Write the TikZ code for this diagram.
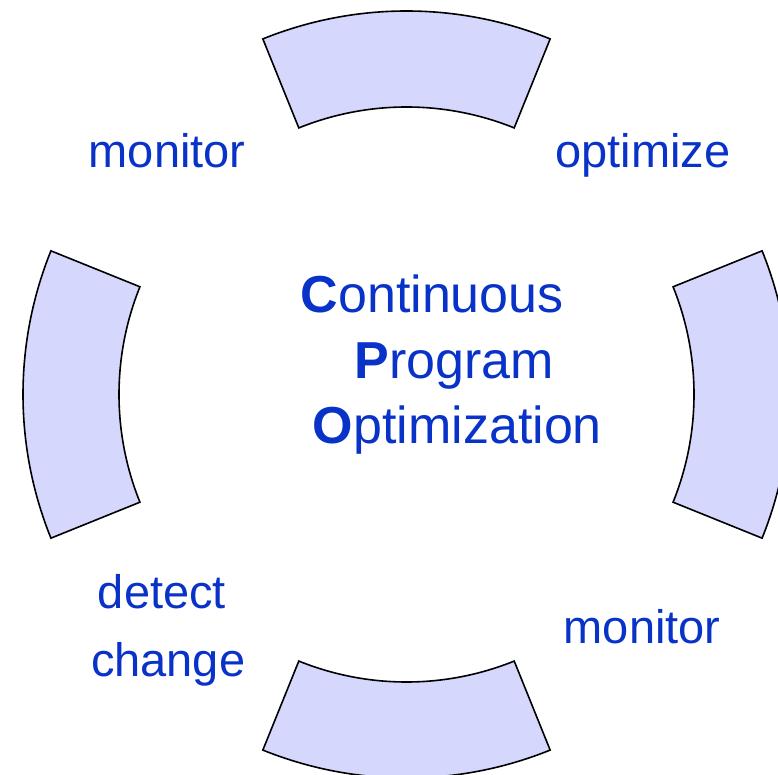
\documentclass[tikz,border=0pt]{standalone}
\usepackage{fontspec}
\setmainfont{Liberation Sans}
\usetikzlibrary{calc}
\definecolor{txtblue}{RGB}{8,50,200}
\definecolor{secfill}{RGB}{213,216,252}
\tikzset{
  sector/.style={draw=black, fill=secfill, line width=1.6pt, line join=miter},
  sidelabel/.style={anchor=base west, inner sep=0pt, text=txtblue, font=\fontsize{47}{56}\selectfont},
  midlabel/.style={anchor=base west, inner sep=0pt, text=txtblue, font=\fontsize{52}{62}\selectfont}
}
\begin{document}
\begin{tikzpicture}[x=1pt,y=1pt]
\clip (0,0) rectangle (778,774);
\useasboundingbox (0,0) rectangle (778,774);
\coordinate (c) at (406.5,379.5);
\foreach \a in {90,180,270,0}{
  \draw[sector] ($(c)+(\a-22:383.5pt)$) arc[start angle=\a-22, end angle=\a+22, radius=383.5pt]
    -- ($(c)+(\a+22:287.5pt)$) arc[start angle=\a+22, end angle=\a-22, radius=287.5pt] -- cycle;
}
\node[midlabel] (l1) at (300.5,461.7) {\textbf{C}ontinuous};
\node[midlabel] (l2) at (354.3,395.7) {\textbf{P}rogram};
\node[midlabel] (l3) at (312.7,330.7) {\textbf{O}ptimization};
\node[sidelabel] (mon1) at (88.6,606.3) {monitor};
\node[sidelabel] (opt) at (555.3,606.3) {optimize};
\node[sidelabel] (mon2) at (563.6,130.7) {monitor};
\node[sidelabel] (det) at (97.7,165.7) {detect};
\node[sidelabel] (chg) at (90.9,97.3) {change};
\end{tikzpicture}
\end{document}
